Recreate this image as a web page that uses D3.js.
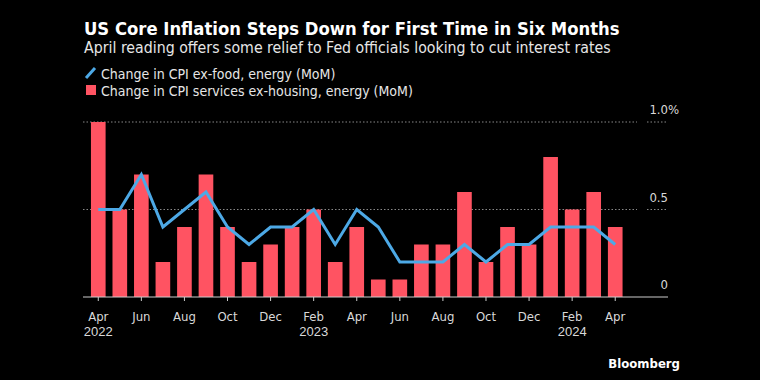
<!DOCTYPE html>
<html>
<head>
<meta charset="utf-8">
<script src="https://cdn.jsdelivr.net/npm/d3@7"></script>
<style>
  body { margin: 0; background: #000; }
  svg { display: block; font-family: "DejaVu Sans Condensed", "DejaVu Sans", sans-serif; }
</style>
</head>
<body>
<svg id="chart"></svg>
<script>
// months Apr 2022 .. Apr 2024
const months = ["Apr 2022","May 2022","Jun 2022","Jul 2022","Aug 2022","Sep 2022","Oct 2022","Nov 2022","Dec 2022",
  "Jan 2023","Feb 2023","Mar 2023","Apr 2023","May 2023","Jun 2023","Jul 2023","Aug 2023","Sep 2023","Oct 2023",
  "Nov 2023","Dec 2023","Jan 2024","Feb 2024","Mar 2024","Apr 2024"];
const coreCpi = [0.5,0.5,0.7,0.4,0.5,0.6,0.4,0.3,0.4,0.4,0.5,0.3,0.5,0.4,0.2,0.2,0.2,0.3,0.2,0.3,0.3,0.4,0.4,0.4,0.3];
const superCore = [1.0,0.5,0.7,0.2,0.4,0.7,0.4,0.2,0.3,0.4,0.5,0.2,0.4,0.1,0.1,0.3,0.3,0.6,0.2,0.4,0.3,0.8,0.5,0.6,0.4];
const yTicks = [0, 0.5, 1.0];
const tickMonths = ["Apr 2022","Jun 2022","Aug 2022","Oct 2022","Dec 2022","Feb 2023","Apr 2023","Jun 2023",
  "Aug 2023","Oct 2023","Dec 2023","Feb 2024","Apr 2024"];
const yearLabels = {"Apr 2022": "2022", "Feb 2023": "2023", "Feb 2024": "2024"};

const W = 760, H = 380;
const svg = d3.select("#chart").attr("width", W).attr("height", H);
svg.append("rect").attr("width", W).attr("height", H).attr("fill", "#000");

const x = d3.scaleBand().domain(months).range([87.5, 626]).paddingInner(0.32).paddingOuter(0.16);
const y = d3.scaleLinear().domain([0, 1]).range([297, 122]);
const axisLeft = 83, axisRight = 668;

// shrink/grow a text's font so it spans roughly the width seen in the original
function fitWidth(sel, size, target) {
  const w = sel.node().getComputedTextLength();
  sel.attr("font-size", (size * target / w).toFixed(2));
}

// title
const title = svg.append("text").attr("x", 84).attr("y", 35)
  .attr("fill", "#fff").attr("font-weight", "bold").attr("font-size", 19)
  .text("US Core Inflation Steps Down for First Time in Six Months");
fitWidth(title, 19, 536);
const sub = svg.append("text").attr("x", 84).attr("y", 53)
  .attr("fill", "#e6e6e6").attr("font-size", 15)
  .text("April reading offers some relief to Fed officials looking to cut interest rates");
fitWidth(sub, 15, 527);

// legend
svg.append("line").attr("x1", 86).attr("y1", 78).attr("x2", 95).attr("y2", 68)
  .attr("stroke", "#4da9e6").attr("stroke-width", 3);
svg.append("text").attr("x", 101).attr("y", 79).attr("fill", "#e6e6e6").attr("font-size", 14)
  .text("Change in CPI ex-food, energy (MoM)");
svg.append("rect").attr("x", 86).attr("y", 85).attr("width", 10).attr("height", 10).attr("fill", "#ff5362");
svg.append("text").attr("x", 101).attr("y", 96).attr("fill", "#e6e6e6").attr("font-size", 14)
  .text("Change in CPI services ex-housing, energy (MoM)");

// gridlines
const grid = svg.append("g");
yTicks.filter(d => d > 0).forEach(function(d) {
  grid.append("line").attr("x1", axisLeft).attr("x2", 637).attr("y1", y(d)).attr("y2", y(d))
    .attr("stroke", "#888").attr("stroke-dasharray", "1.5,2").attr("stroke-width", 1);
  grid.append("line").attr("x1", 647).attr("x2", 667).attr("y1", y(d)).attr("y2", y(d))
    .attr("stroke", "#888").attr("stroke-dasharray", "1.5,2").attr("stroke-width", 1);
});

// y labels, numbers right-aligned so the % sticks out like the original
const yLab = svg.append("g");
yTicks.forEach(function(d) {
  const num = d === 0 ? "0" : d3.format(".1f")(d);
  const t = yLab.append("text").attr("y", y(d) - 8)
    .attr("fill", "#d9d9d9").attr("font-size", 13).text(num);
  const w = t.node().getComputedTextLength();
  t.attr("x", 668 - w);
  if (d === 1) t.append("tspan").text("%");
});

// bars
svg.append("g").selectAll("rect").data(superCore).join("rect")
  .attr("x", (d, i) => x(months[i]))
  .attr("y", d => y(d))
  .attr("width", x.bandwidth())
  .attr("height", d => y(0) - y(d))
  .attr("fill", "#ff5362");

// line
const line = d3.line()
  .x((d, i) => x(months[i]) + x.bandwidth() / 2)
  .y(d => y(d));
svg.append("path").datum(coreCpi)
  .attr("fill", "none").attr("stroke", "#4da9e6").attr("stroke-width", 3)
  .attr("stroke-linejoin", "miter")
  .attr("d", line);

// x axis
svg.append("line").attr("x1", axisLeft).attr("x2", axisRight).attr("y1", y(0)).attr("y2", y(0))
  .attr("stroke", "#ccc").attr("stroke-width", 1);
const xa = svg.append("g").attr("transform", "translate(0," + y(0) + ")")
  .call(d3.axisBottom(x).tickValues(tickMonths).tickSize(4).tickSizeOuter(0).tickFormat(d => d.split(" ")[0]));
xa.select(".domain").remove();
xa.selectAll(".tick line").attr("stroke", "#ccc");
xa.selectAll(".tick text").attr("fill", "#d9d9d9").attr("font-size", 13)
  .attr("font-family", "'DejaVu Sans Condensed', sans-serif").attr("y", 15).attr("dy", "0.71em");
xa.selectAll(".tick").filter(d => yearLabels[d]).append("text")
  .attr("fill", "#d9d9d9").attr("font-size", 13).attr("y", 30).attr("dy", "0.71em")
  .attr("text-anchor", "middle")
  .text(d => yearLabels[d]);

// source
svg.append("text").attr("x", 680).attr("y", 368).attr("text-anchor", "end")
  .attr("fill", "#fff").attr("font-weight", "bold").attr("font-size", 13)
  .text("Bloomberg");
</script>
</body>
</html>
